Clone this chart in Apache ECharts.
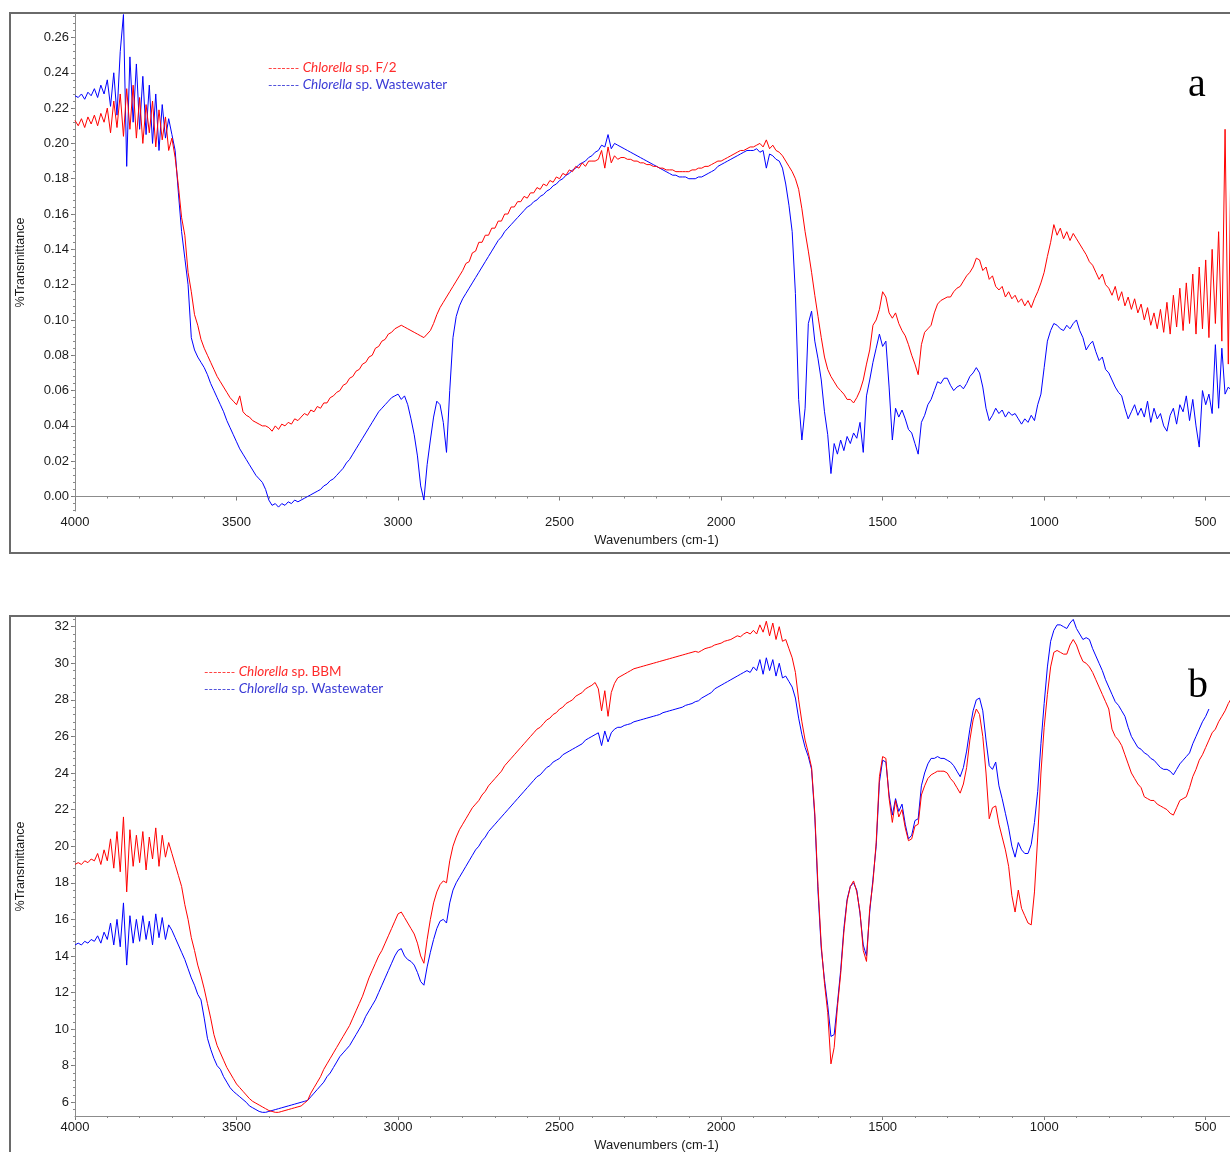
<!DOCTYPE html>
<html><head><meta charset="utf-8">
<script src="https://cdn.jsdelivr.net/npm/echarts@6.0.0/dist/echarts.min.js"></script>
<style>html,body{margin:0;padding:0;background:#fff}#c{width:1230px;height:1152px}</style>
</head><body><div id="c"></div>
<script>
// sampling grid of the spectra (cm-1): first value at WN_START, then every WN_STEP downward
const WN_START = 4000, WN_STEP = 10;
const xTicks = [4000, 3500, 3000, 2500, 2000, 1500, 1000, 500];
const yTicksA = [0, 0.02, 0.04, 0.06, 0.08, 0.10, 0.12, 0.14, 0.16, 0.18, 0.20, 0.22, 0.24, 0.26];
const yTicksB = [6, 8, 10, 12, 14, 16, 18, 20, 22, 24, 26, 28, 30, 32];
const legendA = [['Chlorella', ' sp. F/2'], ['Chlorella', ' sp. Wastewater']];
const legendB = [['Chlorella', ' sp. BBM'], ['Chlorella', ' sp. Wastewater']];
const panelTags = ['a', 'b'];
const axisNames = ['Wavenumbers (cm-1)', '%Transmittance'];

// Panel a: Chlorella sp. F/2 (red)
const redA = [
0.213,0.210,0.214,0.209,0.215,0.211,0.216,0.210,0.217,0.212,
0.220,0.206,0.224,0.209,0.228,0.204,0.231,0.208,0.233,0.203,
0.226,0.200,0.222,0.206,0.224,0.198,0.219,0.202,0.215,0.196,
0.203,0.192,0.176,0.158,0.148,0.127,0.116,0.103,0.097,0.089,
0.084,0.080,0.076,0.072,0.068,0.065,0.062,0.059,0.056,0.054,
0.052,0.057,0.048,0.046,0.045,0.043,0.042,0.041,0.040,0.040,
0.039,0.037,0.040,0.038,0.041,0.040,0.042,0.041,0.044,0.043,
0.045,0.047,0.046,0.049,0.048,0.051,0.050,0.053,0.053,0.056,
0.057,0.059,0.060,0.063,0.064,0.067,0.068,0.071,0.072,0.075,
0.076,0.079,0.080,0.084,0.085,0.088,0.089,0.092,0.093,0.095,
0.096,0.097,0.096,0.095,0.094,0.093,0.092,0.091,0.090,0.092,
0.094,0.098,0.103,0.107,0.110,0.113,0.116,0.119,0.122,0.125,
0.128,0.132,0.133,0.138,0.139,0.144,0.144,0.148,0.148,0.152,
0.152,0.156,0.156,0.160,0.160,0.164,0.164,0.167,0.167,0.170,
0.169,0.172,0.172,0.175,0.174,0.177,0.176,0.179,0.178,0.181,
0.180,0.183,0.182,0.185,0.184,0.187,0.186,0.189,0.187,0.190,
0.190,0.190,0.191,0.196,0.186,0.198,0.189,0.193,0.191,0.192,
0.192,0.191,0.191,0.190,0.190,0.189,0.189,0.188,0.188,0.187,
0.187,0.186,0.186,0.185,0.185,0.185,0.184,0.184,0.184,0.184,
0.184,0.185,0.185,0.186,0.186,0.187,0.187,0.188,0.189,0.190,
0.190,0.191,0.192,0.193,0.194,0.195,0.196,0.196,0.197,0.198,
0.198,0.199,0.200,0.198,0.202,0.197,0.199,0.196,0.195,0.193,
0.190,0.187,0.184,0.180,0.174,0.163,0.150,0.139,0.127,0.114,
0.102,0.090,0.079,0.072,0.068,0.065,0.062,0.060,0.058,0.055,
0.055,0.053,0.056,0.060,0.066,0.075,0.083,0.097,0.100,0.106,
0.116,0.113,0.104,0.101,0.104,0.098,0.094,0.091,0.086,0.080,
0.075,0.069,0.086,0.093,0.095,0.097,0.104,0.109,0.111,0.112,
0.113,0.113,0.116,0.118,0.119,0.122,0.125,0.127,0.130,0.135,
0.134,0.128,0.130,0.123,0.125,0.119,0.117,0.119,0.113,0.116,
0.112,0.114,0.110,0.112,0.108,0.111,0.107,0.112,0.116,0.121,
0.127,0.136,0.144,0.154,0.148,0.152,0.146,0.150,0.145,0.149,
0.146,0.143,0.140,0.137,0.133,0.131,0.127,0.123,0.126,0.120,
0.118,0.114,0.119,0.111,0.116,0.108,0.113,0.106,0.112,0.104,
0.109,0.100,0.107,0.097,0.104,0.095,0.106,0.093,0.110,0.092,
0.114,0.096,0.118,0.094,0.121,0.098,0.126,0.092,0.130,0.095,
0.134,0.090,0.140,0.098,0.150,0.088,0.208,0.075,0.222,0.160,
0.150];

// Panel a: Chlorella sp. Wastewater (blue)
const blueA = [
0.227,0.226,0.228,0.225,0.229,0.227,0.231,0.226,0.233,0.228,
0.236,0.221,0.240,0.216,0.252,0.273,0.187,0.249,0.212,0.245,
0.208,0.238,0.205,0.233,0.200,0.228,0.196,0.222,0.203,0.214,
0.205,0.196,0.172,0.150,0.135,0.120,0.090,0.083,0.079,0.076,
0.073,0.069,0.064,0.060,0.056,0.052,0.048,0.043,0.039,0.035,
0.031,0.027,0.024,0.021,0.018,0.015,0.012,0.010,0.008,0.004,
-0.002,-0.005,-0.004,-0.006,-0.004,-0.005,-0.003,-0.004,-0.002,-0.003,
-0.002,-0.001,0.000,0.001,0.002,0.003,0.004,0.006,0.007,0.009,
0.010,0.012,0.014,0.016,0.019,0.021,0.024,0.027,0.030,0.033,
0.036,0.039,0.042,0.045,0.048,0.050,0.052,0.054,0.056,0.057,
0.058,0.055,0.057,0.052,0.044,0.035,0.023,0.006,-0.002,0.018,
0.032,0.045,0.054,0.052,0.042,0.025,0.060,0.090,0.102,0.108,
0.112,0.115,0.118,0.121,0.124,0.127,0.130,0.133,0.136,0.139,
0.142,0.145,0.147,0.150,0.152,0.154,0.156,0.158,0.160,0.162,
0.164,0.165,0.167,0.168,0.170,0.171,0.173,0.174,0.176,0.177,
0.179,0.180,0.182,0.183,0.185,0.186,0.188,0.189,0.190,0.192,
0.193,0.195,0.196,0.199,0.198,0.205,0.197,0.200,0.199,0.198,
0.197,0.196,0.195,0.194,0.193,0.192,0.191,0.190,0.189,0.188,
0.187,0.186,0.185,0.184,0.183,0.182,0.182,0.181,0.181,0.181,
0.180,0.180,0.180,0.181,0.181,0.182,0.183,0.184,0.185,0.187,
0.188,0.189,0.190,0.191,0.192,0.193,0.194,0.195,0.196,0.196,
0.196,0.197,0.195,0.196,0.186,0.194,0.193,0.191,0.190,0.186,
0.177,0.165,0.150,0.115,0.055,0.032,0.050,0.098,0.105,0.088,
0.078,0.066,0.048,0.035,0.013,0.030,0.024,0.032,0.026,0.034,
0.030,0.036,0.033,0.042,0.025,0.057,0.066,0.076,0.084,0.092,
0.085,0.088,0.062,0.032,0.050,0.045,0.049,0.044,0.038,0.036,
0.030,0.024,0.042,0.046,0.052,0.055,0.060,0.065,0.064,0.067,
0.067,0.063,0.060,0.062,0.063,0.061,0.064,0.068,0.070,0.073,
0.070,0.062,0.050,0.043,0.046,0.050,0.047,0.049,0.045,0.048,
0.046,0.047,0.044,0.041,0.044,0.042,0.046,0.043,0.052,0.058,
0.073,0.088,0.094,0.098,0.097,0.095,0.094,0.097,0.095,0.098,
0.100,0.094,0.090,0.083,0.086,0.088,0.082,0.077,0.079,0.072,
0.070,0.066,0.062,0.059,0.057,0.050,0.044,0.048,0.052,0.046,
0.050,0.045,0.054,0.042,0.050,0.044,0.047,0.040,0.037,0.046,
0.050,0.041,0.052,0.048,0.057,0.043,0.055,0.040,0.028,0.060,
0.052,0.058,0.047,0.086,0.050,0.084,0.058,0.062,0.060,0.055,
0.057];

// Panel b: Chlorella sp. BBM (red)
const redB = [
19.0,19.1,19.0,19.2,19.1,19.3,19.2,19.6,19.0,19.8,
19.2,20.4,18.8,20.8,18.6,21.6,17.5,20.9,18.9,20.6,
19.1,20.8,18.7,20.5,19.3,21.0,18.9,20.6,19.4,20.2,
19.6,19.0,18.4,17.8,16.8,16.0,15.0,14.3,13.5,12.9,
12.2,11.4,10.6,9.7,9.1,8.7,8.3,7.9,7.6,7.3,
7.0,6.8,6.6,6.4,6.2,6.05,5.95,5.85,5.75,5.65,
5.55,5.5,5.45,5.45,5.5,5.55,5.6,5.65,5.7,5.75,
5.8,5.95,6.1,6.5,6.8,7.1,7.4,7.8,8.1,8.4,
8.7,9.0,9.3,9.6,9.9,10.2,10.6,11.0,11.4,11.8,
12.3,12.8,13.2,13.6,14.0,14.3,14.7,15.1,15.5,15.9,
16.3,16.4,16.1,15.8,15.5,15.2,14.7,14.0,13.6,14.9,
16.0,16.9,17.5,17.9,18.1,18.0,19.2,20.0,20.5,20.9,
21.2,21.5,21.8,22.1,22.3,22.5,22.8,23.0,23.3,23.5,
23.7,23.9,24.1,24.4,24.6,24.8,25.0,25.2,25.4,25.6,
25.8,26.0,26.2,26.4,26.5,26.7,26.9,27.0,27.2,27.3,
27.5,27.6,27.8,27.9,28.0,28.2,28.3,28.4,28.6,28.7,
28.8,28.95,28.6,27.4,28.5,27.1,28.4,28.9,29.2,29.3,
29.4,29.5,29.6,29.7,29.75,29.8,29.85,29.9,29.95,30.0,
30.05,30.1,30.15,30.2,30.25,30.3,30.35,30.4,30.45,30.5,
30.55,30.6,30.65,30.6,30.7,30.8,30.85,30.9,31.0,31.05,
31.1,31.2,31.25,31.3,31.4,31.5,31.45,31.6,31.7,31.6,
31.8,31.6,32.1,31.7,32.3,31.5,32.2,31.3,32.0,31.2,
31.3,30.8,30.3,29.5,28.0,26.8,25.8,25.1,24.3,21.8,
17.8,14.6,12.5,10.9,8.1,9.0,11.2,13.0,15.3,17.0,
17.8,18.1,17.5,16.4,14.3,13.7,16.6,18.0,20.2,23.8,
24.9,24.8,22.6,21.3,22.5,21.6,22.0,21.0,20.3,20.4,
21.1,21.2,22.8,23.3,23.7,23.9,24.0,24.1,24.1,24.1,
24.0,23.7,23.5,23.2,22.9,23.4,24.3,25.8,26.9,27.5,
27.2,26.0,24.0,21.5,22.1,22.2,21.2,20.5,19.8,18.9,
17.3,16.4,17.6,16.6,16.2,15.8,15.7,17.5,20.5,24.0,
26.5,28.3,29.8,30.6,30.7,30.6,30.5,30.5,31.0,31.3,
31.0,30.5,30.1,30.0,29.8,29.5,29.1,28.7,28.3,27.9,
27.5,26.4,26.0,25.8,25.5,25.0,24.5,24.0,23.7,23.4,
23.2,22.7,22.6,22.5,22.5,22.3,22.2,22.1,22.0,21.8,
21.7,22.1,22.5,22.6,22.7,23.2,23.8,24.2,24.7,25.0,
25.4,25.8,26.2,26.4,26.8,27.1,27.4,27.8,28.1,28.4,
28.6];

// Panel b: Chlorella sp. Wastewater (blue)
const blueB = [
14.6,14.7,14.6,14.8,14.7,14.9,14.8,15.1,14.7,15.3,
14.9,15.8,14.6,16.0,14.5,16.9,13.5,16.2,14.7,16.0,
14.8,16.2,14.9,15.9,14.6,16.3,15.0,16.1,14.9,15.7,
15.4,15.0,14.6,14.2,13.8,13.3,12.8,12.4,11.9,11.6,
10.6,9.5,8.9,8.4,8.0,7.8,7.4,7.1,6.8,6.6,
6.45,6.3,6.15,6.0,5.8,5.7,5.6,5.5,5.45,5.45,
5.5,5.55,5.6,5.65,5.7,5.75,5.8,5.85,5.9,5.95,
6.0,6.05,6.1,6.3,6.5,6.7,6.9,7.1,7.4,7.6,
7.9,8.2,8.5,8.7,8.9,9.1,9.4,9.7,10.0,10.3,
10.7,11.0,11.3,11.6,12.0,12.4,12.8,13.2,13.6,14.0,
14.3,14.4,14.0,13.8,13.7,13.5,13.1,12.6,12.4,13.4,
14.2,14.9,15.5,15.9,16.0,15.8,16.9,17.6,18.0,18.3,
18.6,18.9,19.2,19.5,19.8,20.0,20.3,20.5,20.8,21.0,
21.2,21.4,21.6,21.8,22.0,22.2,22.4,22.6,22.8,23.0,
23.2,23.4,23.6,23.8,23.9,24.1,24.3,24.4,24.6,24.7,
24.8,25.0,25.1,25.2,25.3,25.4,25.5,25.6,25.8,25.9,
26.0,26.1,26.2,25.5,26.3,25.7,26.2,26.4,26.5,26.5,
26.6,26.65,26.7,26.8,26.85,26.9,26.95,27.0,27.05,27.1,
27.15,27.2,27.3,27.35,27.4,27.45,27.5,27.55,27.6,27.7,
27.75,27.8,27.9,27.95,28.1,28.2,28.3,28.4,28.6,28.7,
28.8,28.9,29.0,29.1,29.2,29.3,29.4,29.5,29.6,29.5,
29.8,29.6,30.2,29.4,30.3,29.6,30.2,29.3,30.0,29.2,
29.3,29.0,28.7,28.1,27.0,26.1,25.4,24.9,24.2,21.6,
17.5,14.4,12.7,11.3,9.6,9.7,11.4,13.2,15.5,17.1,
17.8,18.0,17.6,16.3,14.6,14.0,16.4,18.2,20.0,23.5,
24.7,24.6,22.8,21.7,22.6,21.9,22.3,21.2,20.4,20.6,
21.4,21.5,23.3,24.0,24.5,24.8,24.8,24.9,24.8,24.8,
24.7,24.6,24.4,24.1,23.8,24.3,25.2,26.4,27.4,28.0,
28.1,27.4,25.8,24.4,24.2,24.6,23.3,22.6,21.8,21.0,
20.0,19.4,20.2,19.8,19.6,19.6,20.1,21.3,23.0,25.6,
27.8,29.8,31.2,31.8,32.1,32.1,32.0,31.9,32.2,32.4,
31.9,31.6,31.3,31.4,31.3,30.8,30.4,30.0,29.6,29.1,
28.7,28.3,27.9,27.7,27.4,27.1,26.5,26.0,25.7,25.4,
25.3,25.1,25.0,24.8,24.7,24.5,24.3,24.2,24.2,24.1,
23.9,24.2,24.5,24.7,24.9,25.1,25.6,26.0,26.4,26.8,
27.1,27.5];

// ---------- build ----------
const toPairs = arr => arr.map((v, i) => [WN_START - i * WN_STEP, v]);
function minorList(a, b, step, dec) {
  const out = [];
  const n = Math.round((b - a) / step);
  for (let i = 0; i <= n; i++) out.push(+(a + i * step).toFixed(dec));
  return out;
}
const xMinor = minorList(400, 4000, 100, 0);
const yMinorA = minorList(-0.008, 0.272, 0.004, 3);
const yMinorB = minorList(5.6, 32.4, 0.4, 1);

const FONT = 'Liberation Sans, Arial, sans-serif';
const AXC = '#8c8c8c';
const TXT = '#1a1a1a';

const grids = [
  {left: 75, top: 14, width: 1163, height: 497},
  {left: 75, top: 617, width: 1163, height: 499}
];
const yRanges = [[-0.0082, 0.2733], [5.25, 32.53]];
const yTickSets = [yTicksA, yTicksB];
const yMinorSets = [yMinorA, yMinorB];
const yFmt = [v => v.toFixed(2), v => String(v)];

const xAxes = [], yAxes = [];
[0, 1].forEach(g => {
  xAxes.push({
    gridIndex: g, type: 'value', min: 400, max: 4000, inverse: true,
    axisLine: {show: true, lineStyle: {color: AXC, width: 1}},
    axisTick: {show: true, customValues: xTicks, length: 4, lineStyle: {color: '#777'}},
    axisLabel: {customValues: xTicks, formatter: v => String(v), fontSize: 13, color: TXT, fontFamily: FONT, margin: 5},
    splitLine: {show: false},
    name: axisNames[0], nameLocation: 'middle', nameGap: 23,
    nameTextStyle: {fontSize: 13, color: TXT, fontFamily: FONT}
  });
  xAxes.push({
    gridIndex: g, type: 'value', min: 400, max: 4000, inverse: true, position: 'bottom',
    axisLine: {show: false},
    axisTick: {show: true, customValues: xMinor, length: 2, lineStyle: {color: '#888'}},
    axisLabel: {show: false}, splitLine: {show: false}
  });
  yAxes.push({
    gridIndex: g, type: 'value', min: yRanges[g][0], max: yRanges[g][1],
    axisLine: {show: true, lineStyle: {color: AXC, width: 1}},
    axisTick: {show: true, customValues: yTickSets[g], length: 4, lineStyle: {color: '#777'}},
    axisLabel: {customValues: yTickSets[g], formatter: yFmt[g], fontSize: 13, color: TXT, fontFamily: FONT, margin: 6},
    splitLine: {show: false},
    name: axisNames[1], nameLocation: 'middle', nameGap: 48,
    nameTextStyle: {fontSize: 12.5, color: TXT, fontFamily: FONT}
  });
  yAxes.push({
    gridIndex: g, type: 'value', min: yRanges[g][0], max: yRanges[g][1], position: 'left',
    axisLine: {show: false},
    axisTick: {show: true, customValues: yMinorSets[g], length: 2, lineStyle: {color: '#888'}},
    axisLabel: {show: false}, splitLine: {show: false}
  });
});

const RED = '#ff0000', BLUE = '#0000ff';
function line(data, g, color) {
  return {type: 'line', xAxisIndex: g * 2, yAxisIndex: g * 2, data: toPairs(data),
    symbol: 'none', showSymbol: false, silent: true, animation: false, clip: true,
    lineStyle: {color: color, width: 1}, emphasis: {disabled: true}};
}

const LF = 'Lato, sans-serif';
function legendText(x, y, parts, color) {
  return {type: 'text', x: x, y: y, silent: true,
    style: {text: '{d|-------} {i|' + parts[0] + '}{n|' + parts[1] + '}', verticalAlign: 'middle',
      fill: color, fontFamily: LF, fontSize: 13.5,
      rich: {d: {fill: color, fontSize: 12, fontFamily: LF},
             i: {fill: color, fontSize: 13.5, fontStyle: 'italic', fontFamily: LF},
             n: {fill: color, fontSize: 13.5, fontFamily: LF}}}};
}

const LRED = '#ff2b2b', LBLUE = '#3b3bd6';
const graphic = [
  {type: 'rect', silent: true, shape: {x: 10, y: 13, width: 1240, height: 540}, style: {fill: 'none', stroke: '#6a6a6a', lineWidth: 2}},
  {type: 'rect', silent: true, shape: {x: 10, y: 616, width: 1240, height: 560}, style: {fill: 'none', stroke: '#6a6a6a', lineWidth: 2}},
  legendText(268, 68, legendA[0], LRED),
  legendText(268, 85, legendA[1], LBLUE),
  legendText(204, 672, legendB[0], LRED),
  legendText(204, 689, legendB[1], LBLUE),
  {type: 'text', x: 1197, y: 85, silent: true, style: {text: panelTags[0], align: 'center', verticalAlign: 'middle', fontFamily: 'Liberation Serif, serif', fontSize: 40, fill: '#000'}},
  {type: 'text', x: 1198, y: 686, silent: true, style: {text: panelTags[1], align: 'center', verticalAlign: 'middle', fontFamily: 'Liberation Serif, serif', fontSize: 40, fill: '#000'}}
];

const chart = echarts.init(document.getElementById('c'), null, {renderer: 'canvas'});
chart.setOption({
  animation: false,
  backgroundColor: '#ffffff',
  grid: grids.map(g => Object.assign({containLabel: false, outerBoundsMode: 'none'}, g)),
  xAxis: xAxes,
  yAxis: yAxes,
  series: [line(blueA, 0, BLUE), line(redA, 0, RED), line(blueB, 1, BLUE), line(redB, 1, RED)],
  graphic: graphic
});
</script>
</body></html>
